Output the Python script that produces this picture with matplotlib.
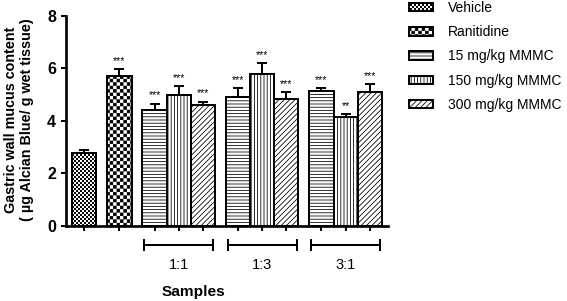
### Imports ###
import numpy as np
import matplotlib
matplotlib.use('Agg')
import matplotlib.pyplot as plt
import matplotlib.hatch as mhatch
import matplotlib.transforms as mtransforms
from matplotlib.path import Path

### Data ###
treatments = ['Vehicle', 'Ranitidine', '15 mg/kg MMMC', '150 mg/kg MMMC',
              '300 mg/kg MMMC']
ratios = ['1:1', '1:3', '3:1']
# Vehicle and Ranitidine first, then 15/150/300 mg/kg for each ratio
control_means = [2.76, 5.70]
control_sem = [0.12, 0.26]
control_stars = ['', '***']
mmmc_means = [[4.43, 5.00, 4.62],
              [4.92, 5.78, 4.84],
              [5.15, 4.13, 5.09]]
mmmc_sem = [[0.23, 0.32, 0.11],
            [0.32, 0.41, 0.24],
            [0.09, 0.13, 0.30]]
mmmc_stars = [['***', '***', '***'],
              ['***', '***', '***'],
              ['***', '**', '***']]
y_ticks = [0, 2, 4, 6, 8]


### Checkerboard hatches ###
class CheckerHatch(mhatch.HatchPatternBase):
    char = 'o'
    per_char = 12

    def __init__(self, hatch, density):
        self.n = self.per_char * hatch.count(self.char)
        self.num_vertices = 5 * (self.n * self.n // 2) if self.n else 0

    def set_vertices_and_codes(self, vertices, codes):
        n = self.n
        # shrink a little, the hatch stroke widens every square
        d = plt.rcParams['hatch.linewidth'] / 72 / 2
        verts = []
        for i in range(n):
            for j in range(n):
                if (i + j) % 2 == 0:
                    x0, x1 = i / n + d, (i + 1) / n - d
                    y0, y1 = j / n + d, (j + 1) / n - d
                    verts += [(x0, y0), (x1, y0), (x1, y1), (x0, y1), (x0, y0)]
        vertices[:] = verts
        codes[:] = [Path.MOVETO, Path.LINETO, Path.LINETO, Path.LINETO,
                    Path.CLOSEPOLY] * (len(verts) // 5)

    get_vertices_and_codes = set_vertices_and_codes


class CoarseCheckerHatch(CheckerHatch):
    char = 'O'
    per_char = 4


mhatch._hatch_types = [mhatch.HorizontalHatch, mhatch.VerticalHatch,
                       mhatch.NorthEastHatch, mhatch.SouthEastHatch,
                       CheckerHatch, CoarseCheckerHatch]

### Style ###
plt.rcParams['font.family'] = ['Liberation Sans', 'DejaVu Sans']
plt.rcParams['hatch.linewidth'] = 0.6
plt.rcParams['hatch.color'] = 'black'
hatches = ['oooo', 'OOOOOOO', '-----', '|||||', '//////']

### Layout of bars ###
width = 1.0
gap = 0.45
positions, heights, errors, stars, styles = [], [], [], [], []
x = 0.0
for i in range(2):
    positions.append(x)
    heights.append(control_means[i])
    errors.append(control_sem[i])
    stars.append(control_stars[i])
    styles.append(i)
    x += width + gap
group_spans = []
for g in range(len(ratios)):
    start = x
    for k in range(3):
        positions.append(x)
        heights.append(mmmc_means[g][k])
        errors.append(mmmc_sem[g][k])
        stars.append(mmmc_stars[g][k])
        styles.append(2 + k)
        x += width
    group_spans.append((start - width / 2, x - width / 2))
    x += gap

### Figure ###
dpi = 96
fig = plt.figure(figsize=(567 / dpi, 301 / dpi), dpi=dpi)
ax = fig.add_axes([66 / 567, 1 - 226 / 301, 322 / 567, 210.3 / 301])

legend_bars = {}
for p, h, s in zip(positions, heights, styles):
    bar = ax.bar(p, h, width=width, color='white', edgecolor='black',
                 linewidth=1.5, hatch=hatches[s], zorder=3)
    legend_bars.setdefault(treatments[s], bar)

ax.errorbar(positions, heights, yerr=[np.zeros(len(heights)), errors],
            fmt='none', ecolor='black', elinewidth=1.5, capsize=4,
            capthick=1.5, zorder=2)

for p, h, e, st in zip(positions, heights, errors, stars):
    if st:
        ax.annotate(st, (p, h + e), xytext=(0, 2.5), textcoords='offset points',
                    ha='center', va='bottom', fontsize=8)

ax.set_xlim(positions[0] - 0.76, positions[-1] + 0.75)
ax.set_ylim(0, 8)
ax.set_yticks(y_ticks)
ax.set_yticklabels([str(t) for t in y_ticks], fontsize=12, fontweight='bold')
ax.set_xticks(positions)
ax.set_xticklabels([])
ax.tick_params(width=1.5, length=4, direction='out')
for side in ['top', 'right']:
    ax.spines[side].set_visible(False)
for side in ['left', 'bottom']:
    ax.spines[side].set_linewidth(2)

ax.set_ylabel('Gastric wall mucus content\n( \u00b5g Alcian Blue/ g wet tissue)',
              fontsize=10.8, fontweight='bold', linespacing=1.2)
ax.yaxis.set_label_coords(-0.099, 0.504)
ax.set_xlabel('Samples', fontsize=11.5, fontweight='bold', va='center')
ax.xaxis.set_label_coords(0.396, -0.314)

# group brackets under the axis
trans = mtransforms.blended_transform_factory(ax.transData, ax.transAxes)
for (x0, x1), lab in zip(group_spans, ratios):
    x0, x1 = x0 + 0.08, x1 - 0.08
    ax.plot([x0, x1], [-0.09, -0.09], color='black', lw=1.5,
            transform=trans, clip_on=False)
    for xe in (x0, x1):
        ax.plot([xe, xe], [-0.065, -0.115], color='black', lw=1.5,
                transform=trans, clip_on=False)
    ax.text((x0 + x1) / 2, -0.185, lab, transform=trans, ha='center',
            va='center', fontsize=11)

# legend with one entry per treatment
fig.legend([legend_bars[t] for t in treatments], treatments, loc='upper left',
           bbox_to_anchor=(406 / 567, 1.006), frameon=False, fontsize=10.4,
           handlelength=1.75, handleheight=0.55, handletextpad=1.05,
           labelspacing=0.74, borderpad=0.2, borderaxespad=0)

fig.savefig('out.png', dpi=dpi)
